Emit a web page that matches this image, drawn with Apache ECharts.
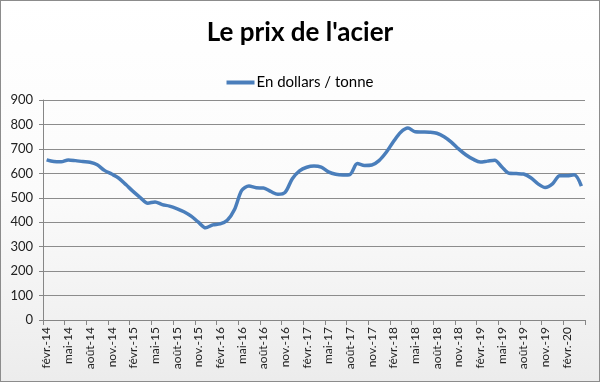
<!DOCTYPE html>
<html>
<head>
<meta charset="utf-8">
<script src="https://cdn.jsdelivr.net/npm/echarts@6/dist/echarts.min.js"></script>
<style>
html,body{margin:0;padding:0;}
#wrap{position:absolute;left:0;top:0;width:598px;height:380px;border:1px solid #8c8c8c;background:linear-gradient(#ffffff 0%,#fbfbfb 50%,#ececec 100%);}
#chart{width:598px;height:380px;}
</style>
</head>
<body>
<div id="wrap"><div id="chart"></div></div>
<script>
const months = ['janv.','févr.','mars','avr.','mai','juin','juil.','août','sept.','oct.','nov.','déc.'];
const categories = [];
for (let y = 14; y <= 20; y++) {
  for (let m = 0; m < 12; m++) {
    if (y === 14 && m < 1) continue;
    if (y === 20 && m > 3) continue;
    categories.push(months[m] + '-' + y);
  }
}
const seriesName = 'En dollars / tonne';
const prices = [
  655, 648, 647, 655, 652, 648, 645, 635, 612, 597, 580, 553,
  525, 500, 478, 483, 472, 466, 456, 443, 425, 400, 377, 389,
  393, 408, 452, 530, 548, 541, 540, 526, 514, 522, 578, 610,
  625, 630, 625, 606, 596, 593, 596, 640, 632, 634, 652, 686,
  730, 768, 785, 770, 769, 768, 764, 750, 728, 700, 676, 658,
  646, 650, 654, 626, 600, 599, 597, 582, 557, 542, 557, 590,
  590, 594, 548
];
const yTicks = [0, 100, 200, 300, 400, 500, 600, 700, 800, 900];

const chart = echarts.init(document.getElementById('chart'), null, {renderer: 'canvas'});
chart.setOption({
  backgroundColor: 'transparent',
  animation: false,
  title: {
    text: "Le prix de l'acier",
    left: 'center',
    top: 14,
    textStyle: {fontFamily: 'Lato', fontWeight: 'bold', fontSize: 26, color: '#000'}
  },
  legend: {
    top: 69,
    left: 'center',
    itemWidth: 28,
    itemHeight: 4,
    itemGap: 4,
    icon: 'rect',
    textStyle: {fontFamily: 'Lato', fontSize: 15, color: '#000', padding: [0,0,0,-3]},
    data: [seriesName]
  },
  grid: {left: 42, right: 14, top: 99, bottom: 61},
  xAxis: {
    type: 'category',
    data: categories,
    boundaryGap: true,
    axisLine: {lineStyle: {color: '#868686', width: 1}},
    axisTick: {show: true, interval: 2, length: 5, lineStyle: {color: '#868686'}},
    axisLabel: {interval: 2, rotate: 90, fontFamily: 'Lato', fontSize: 12, color: '#222', margin: 7}
  },
  yAxis: {
    type: 'value',
    min: yTicks[0],
    max: yTicks[yTicks.length - 1],
    interval: 100,
    axisLine: {show: true, lineStyle: {color: '#868686', width: 1}},
    axisTick: {show: true, length: 4, lineStyle: {color: '#868686'}},
    axisLabel: {fontFamily: 'Lato', fontSize: 13, color: '#222', margin: 10},
    splitLine: {lineStyle: {color: '#8c8c8c', width: 1}}
  },
  series: [{
    name: seriesName,
    type: 'line',
    data: prices,
    smooth: 0.3,
    showSymbol: false,
    symbol: 'none',
    lineStyle: {color: '#4a7ebb', width: 3.5},
    itemStyle: {color: '#4a7ebb'}
  }]
});
</script>
</body>
</html>
